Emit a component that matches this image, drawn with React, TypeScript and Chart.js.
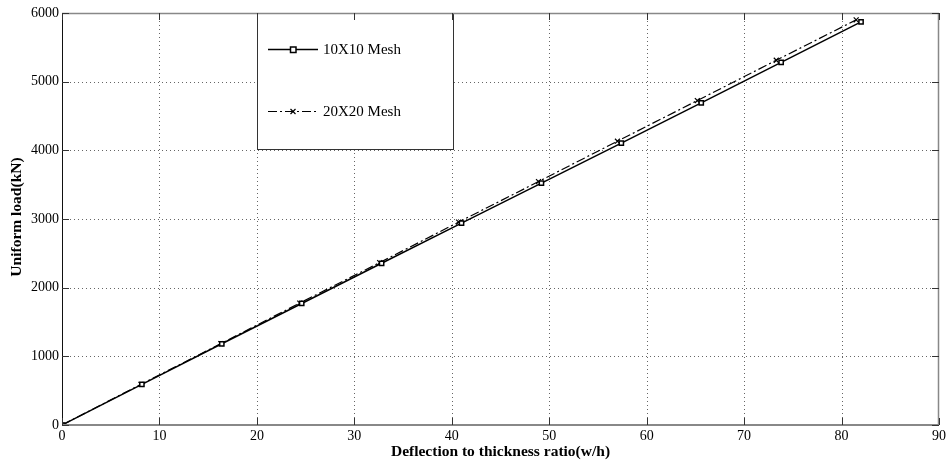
import React, { useEffect, useRef } from "react";
import { Chart, registerables } from "chart.js";

Chart.register(...registerables);

const xTicks = [0, 10, 20, 30, 40, 50, 60, 70, 80, 90];
const yTicks = [0, 1000, 2000, 3000, 4000, 5000, 6000];

const mesh10X = [0, 8.2, 16.4, 24.6, 32.8, 41.0, 49.2, 57.4, 65.6, 73.8, 82.0];
const mesh10Y = [0, 592, 1183, 1770, 2355, 2940, 3522, 4105, 4690, 5280, 5870];

const mesh20X = [0, 8.1, 16.3, 24.4, 32.6, 40.7, 48.9, 57.0, 65.2, 73.3, 81.5];
const mesh20Y = [0, 592, 1185, 1776, 2365, 2955, 3545, 4133, 4725, 5312, 5900];

const series1Label = "10X10 Mesh";
const series2Label = "20X20 Mesh";
const xTitle = "Deflection to thickness ratio(w/h)";
const yTitle = "Uniform load(kN)";

const FONT = "'Liberation Serif', 'Times New Roman', serif";
const DASHDOT = [9, 3, 2, 3];

const gridPlugin = {
  id: "matlabGrid",
  beforeDatasetsDraw(chart: any) {
    const { ctx, chartArea, scales } = chart;
    const { left, right, top, bottom } = chartArea;
    const x = scales.x;
    const y = scales.y;
    ctx.save();
    ctx.strokeStyle = "#666";
    ctx.lineWidth = 1;
    ctx.setLineDash([1, 3]);
    xTicks.forEach((v) => {
      if (v === xTicks[0] || v === xTicks[xTicks.length - 1]) return;
      const px = Math.round(x.getPixelForValue(v)) + 0.5;
      ctx.beginPath();
      ctx.moveTo(px, top);
      ctx.lineTo(px, bottom);
      ctx.stroke();
    });
    yTicks.forEach((v) => {
      if (v === yTicks[0] || v === yTicks[yTicks.length - 1]) return;
      const py = Math.round(y.getPixelForValue(v)) + 0.5;
      ctx.beginPath();
      ctx.moveTo(left, py);
      ctx.lineTo(right, py);
      ctx.stroke();
    });
    ctx.restore();

    // legend box (opaque, covers grid)
    const lx = 257, ly = top, lw = 196, lh = 136;
    ctx.save();
    ctx.fillStyle = "#fff";
    ctx.fillRect(lx, ly, lw, lh);
    ctx.strokeStyle = "#333";
    ctx.lineWidth = 1;
    ctx.strokeRect(lx + 0.5, ly + 0.5, lw, lh);

    // entry 1
    ctx.strokeStyle = "#000";
    ctx.lineWidth = 1.5;
    ctx.beginPath();
    ctx.moveTo(268, 49.5);
    ctx.lineTo(318, 49.5);
    ctx.stroke();
    ctx.fillStyle = "#fff";
    ctx.lineWidth = 1.5;
    ctx.fillRect(290.5, 47, 5.5, 5.5);
    ctx.strokeRect(290.5, 47, 5.5, 5.5);

    // entry 2
    ctx.lineWidth = 1.2;
    ctx.setLineDash(DASHDOT);
    ctx.beginPath();
    ctx.moveTo(268, 111.5);
    ctx.lineTo(318, 111.5);
    ctx.stroke();
    ctx.setLineDash([]);
    ctx.beginPath();
    ctx.moveTo(290.5, 109);
    ctx.lineTo(295.5, 114);
    ctx.moveTo(295.5, 109);
    ctx.lineTo(290.5, 114);
    ctx.stroke();

    ctx.fillStyle = "#000";
    ctx.font = `15px ${FONT}`;
    ctx.textBaseline = "middle";
    ctx.textAlign = "left";
    ctx.fillText(series1Label, 323, 50);
    ctx.fillText(series2Label, 323, 112);
    ctx.restore();
  },
  afterDraw(chart: any) {
    const { ctx, chartArea, scales } = chart;
    const { left, right, top, bottom } = chartArea;
    const x = scales.x;
    const y = scales.y;
    ctx.save();
    // box
    ctx.strokeStyle = "#888";
    ctx.lineWidth = 1.5;
    ctx.beginPath();
    ctx.moveTo(left, top + 0.5);
    ctx.lineTo(right, top + 0.5);
    ctx.moveTo(right - 0.5, top);
    ctx.lineTo(right - 0.5, bottom);
    ctx.stroke();
    ctx.lineWidth = 2;
    ctx.beginPath();
    ctx.moveTo(left, bottom);
    ctx.lineTo(right, bottom);
    ctx.stroke();
    ctx.strokeStyle = "#111";
    ctx.lineWidth = 1;
    ctx.beginPath();
    ctx.moveTo(left + 0.5, top);
    ctx.lineTo(left + 0.5, bottom);
    ctx.stroke();

    // inward ticks
    ctx.strokeStyle = "#333";
    ctx.lineWidth = 1;
    const TL = 7;
    xTicks.forEach((v) => {
      const px = Math.round(x.getPixelForValue(v)) + 0.5;
      ctx.beginPath();
      ctx.moveTo(px, bottom);
      ctx.lineTo(px, bottom - TL);
      ctx.moveTo(px, top);
      ctx.lineTo(px, top + TL);
      ctx.stroke();
    });
    yTicks.forEach((v) => {
      const py = Math.round(y.getPixelForValue(v)) + 0.5;
      ctx.beginPath();
      ctx.moveTo(left, py);
      ctx.lineTo(left + TL, py);
      ctx.moveTo(right, py);
      ctx.lineTo(right - TL, py);
      ctx.stroke();
    });

    // axis titles
    ctx.fillStyle = "#000";
    ctx.font = `bold 15.5px ${FONT}`;
    ctx.textAlign = "center";
    ctx.textBaseline = "middle";
    ctx.fillText(xTitle, (left + right) / 2, 452);
    ctx.translate(17, (top + bottom) / 2 - 2);
    ctx.rotate(-Math.PI / 2);
    ctx.fillText(yTitle, 0, 0);
    ctx.restore();
  },
};

export default function App() {
  const ref = useRef<HTMLCanvasElement | null>(null);

  useEffect(() => {
    if (!ref.current) return;
    const chart = new Chart(ref.current, {
      type: "scatter",
      data: {
        datasets: [
          {
            label: series1Label,
            data: mesh10X.map((v, i) => ({ x: v, y: mesh10Y[i] })),
            showLine: true,
            borderColor: "#000",
            borderWidth: 1.5,
            pointStyle: "rect",
            pointRadius: 3,
            pointBorderWidth: 1.5,
            pointBackgroundColor: "#fff",
            pointBorderColor: "#000",
          },
          {
            label: series2Label,
            data: mesh20X.map((v, i) => ({ x: v, y: mesh20Y[i] })),
            showLine: true,
            borderColor: "#000",
            borderWidth: 1.2,
            borderDash: DASHDOT,
            pointStyle: "crossRot",
            pointRadius: 3.5,
            pointBorderWidth: 1.2,
            pointBorderColor: "#000",
          },
        ],
      },
      options: {
        responsive: false,
        animation: false,
        devicePixelRatio: 1,
        layout: { padding: { top: 13, right: 8, left: 0, bottom: 0 } },
        plugins: {
          legend: { display: false },
          tooltip: { enabled: false },
        },
        scales: {
          x: {
            type: "linear",
            min: 0,
            max: 90,
            afterBuildTicks: (s: any) => {
              s.ticks = xTicks.map((v) => ({ value: v }));
            },
            afterFit: (s: any) => {
              s.height = 40;
            },
            grid: { display: false, drawTicks: false },
            border: { display: false },
            ticks: {
              color: "#000",
              font: { family: FONT, size: 14 },
              padding: 3,
              maxRotation: 0,
              callback: (v: any) => String(v),
            },
          },
          y: {
            type: "linear",
            min: 0,
            max: 6000,
            afterBuildTicks: (s: any) => {
              s.ticks = yTicks.map((v) => ({ value: v }));
            },
            afterFit: (s: any) => {
              s.width = 62;
            },
            grid: { display: false, drawTicks: false },
            border: { display: false },
            ticks: {
              color: "#000",
              font: { family: FONT, size: 14 },
              padding: 3,
              callback: (v: any) => String(v),
            },
          },
        },
      },
      plugins: [gridPlugin],
    } as any);
    return () => chart.destroy();
  }, []);

  return (
    <div style={{ position: "absolute", left: 0, top: 0, width: 949, height: 465, background: "#fff" }}>
      <canvas ref={ref} width={949} height={465} />
    </div>
  );
}
